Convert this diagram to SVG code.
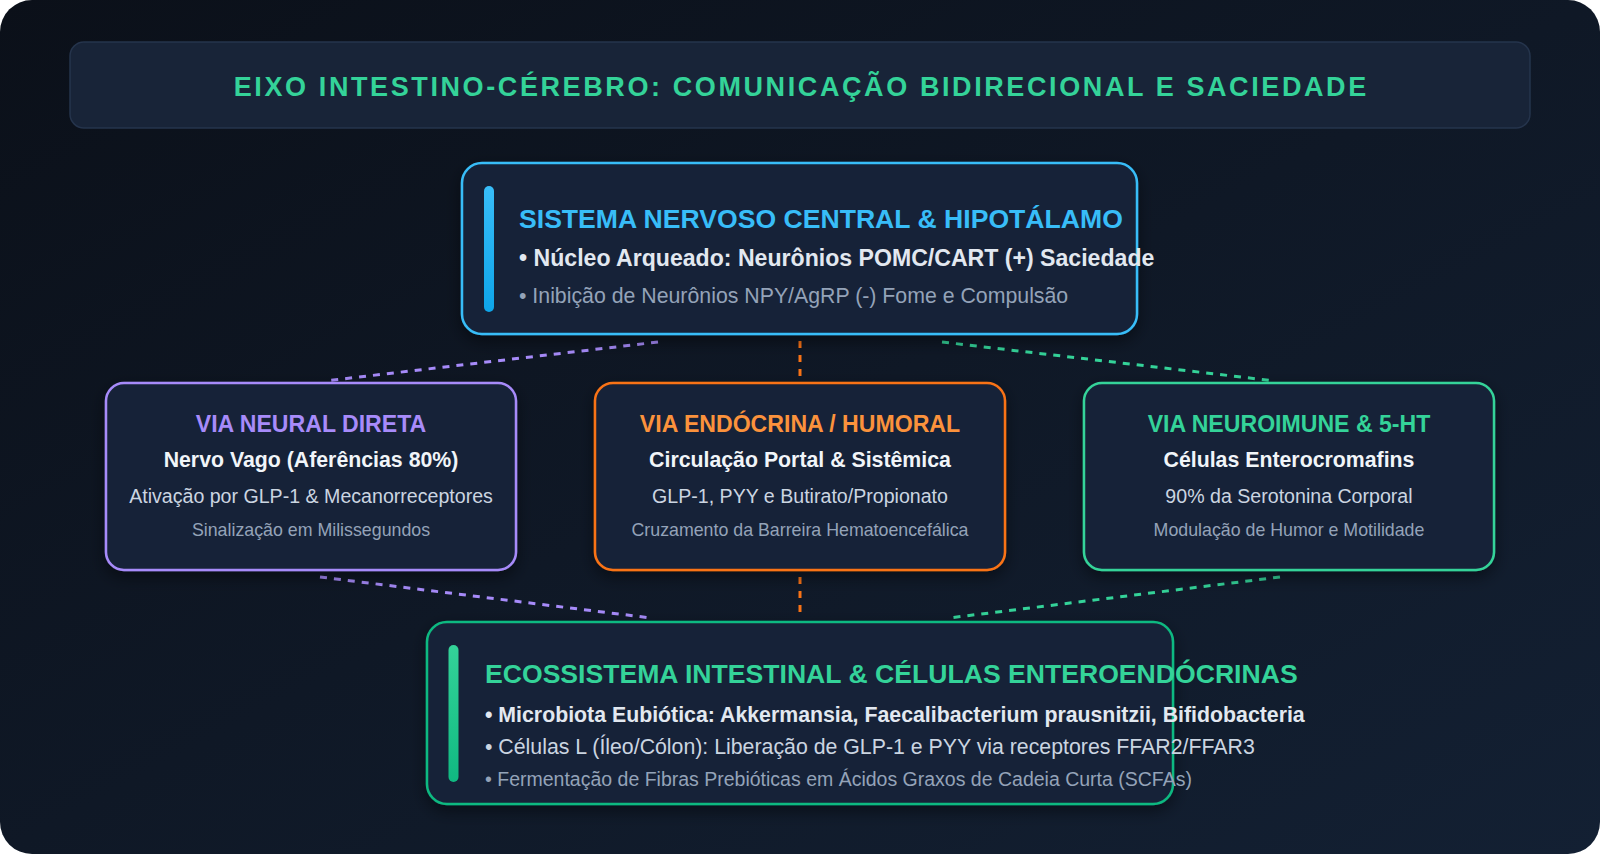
<svg xmlns="http://www.w3.org/2000/svg" width="1600" height="854" viewBox="0 0 1600 854">
  <defs>
    <linearGradient id="bg" x1="0" y1="0" x2="1" y2="1">
      <stop offset="0" stop-color="#0b1019"/>
      <stop offset="1" stop-color="#132033"/>
    </linearGradient>
    <linearGradient id="barBlue" x1="0" y1="0" x2="0" y2="1">
      <stop offset="0" stop-color="#38bdf8"/>
      <stop offset="1" stop-color="#0ea5e9"/>
    </linearGradient>
    <linearGradient id="barGreen" x1="0" y1="0" x2="0" y2="1">
      <stop offset="0" stop-color="#34d399"/>
      <stop offset="1" stop-color="#10b981"/>
    </linearGradient>
    <filter id="shadow" x="-20%" y="-20%" width="140%" height="150%">
      <feDropShadow dx="0" dy="6" stdDeviation="8" flood-color="#000000" flood-opacity="0.45"/>
    </filter>
    <style>
      text { font-family: "Liberation Sans", Arial, Helvetica, sans-serif; }
      .box { fill: #172238; stroke-width: 2.5; filter: url(#shadow); }
      .title { font-size: 27px; font-weight: bold; fill: #34d399; letter-spacing: 2.6px; }
      .h1 { font-size: 26.6px; font-weight: bold; }
      .h2 { font-size: 23.1px; font-weight: bold; text-anchor: middle; }
      .b2 { font-size: 21.3px; font-weight: bold; fill: #f1f5f9; text-anchor: middle; }
      .r2 { font-size: 19.6px; fill: #cbd5e1; text-anchor: middle; }
      .g2 { font-size: 17.8px; fill: #94a3b8; text-anchor: middle; }
      .conn { fill: none; stroke-width: 3; stroke-dasharray: 7 7; }
    </style>
  </defs>

  <rect x="0" y="0" width="1600" height="854" rx="32" fill="url(#bg)"/>

  <g id="title">
    <rect x="70" y="42" width="1460" height="86" rx="14" fill="#182438" stroke="#25344c" stroke-width="1.5"/>
    <text class="title" x="801.3" y="95.7" text-anchor="middle">EIXO INTESTINO-CÉREBRO: COMUNICAÇÃO BIDIRECIONAL E SACIEDADE</text>
  </g>

  <g id="connectors">
    <line class="conn" stroke="#a78bfa" x1="658" y1="342" x2="325" y2="381"/>
    <line class="conn" stroke="#f97316" x1="800" y1="341" x2="800" y2="377"/>
    <line class="conn" stroke="#34d399" x1="942" y1="342" x2="1275" y2="381"/>
    <line class="conn" stroke="#a78bfa" x1="320" y1="577" x2="651" y2="618"/>
    <line class="conn" stroke="#f97316" x1="800" y1="577" x2="800" y2="613"/>
    <line class="conn" stroke="#34d399" x1="1280" y1="577" x2="949" y2="618"/>
  </g>

  <g id="snc">
    <rect class="box" x="462" y="163" width="675" height="171" rx="20" stroke="#38bdf8"/>
    <rect x="484" y="186" width="10" height="126" rx="5" fill="url(#barBlue)"/>
    <text class="h1" x="519" y="228.3" fill="#38bdf8">SISTEMA NERVOSO CENTRAL &amp; HIPOTÁLAMO</text>
    <text x="519" y="266" font-size="23.1px" font-weight="bold" fill="#e2e8f0">• Núcleo Arqueado: Neurônios POMC/CART (+) Saciedade</text>
    <text x="519" y="303" font-size="21.3px" fill="#94a3b8">• Inibição de Neurônios NPY/AgRP (-) Fome e Compulsão</text>
  </g>

  <g id="via-neural">
    <rect class="box" x="106" y="383" width="410" height="187" rx="18" stroke="#a78bfa"/>
    <text class="h2" x="311" y="431.7" fill="#a78bfa">VIA NEURAL DIRETA</text>
    <text class="b2" x="311" y="467.3">Nervo Vago (Aferências 80%)</text>
    <text class="r2" x="311" y="503.3">Ativação por GLP-1 &amp; Mecanorreceptores</text>
    <text class="g2" x="311" y="535.5">Sinalização em Milissegundos</text>
  </g>

  <g id="via-endocrina">
    <rect class="box" x="595" y="383" width="410" height="187" rx="18" stroke="#f97316"/>
    <text class="h2" x="800" y="431.7" fill="#fb923c">VIA ENDÓCRINA / HUMORAL</text>
    <text class="b2" x="800" y="467.3">Circulação Portal &amp; Sistêmica</text>
    <text class="r2" x="800" y="503.3">GLP-1, PYY e Butirato/Propionato</text>
    <text class="g2" x="800" y="535.5">Cruzamento da Barreira Hematoencefálica</text>
  </g>

  <g id="via-neuroimune">
    <rect class="box" x="1084" y="383" width="410" height="187" rx="18" stroke="#34d399"/>
    <text class="h2" x="1289" y="431.7" fill="#34d399">VIA NEUROIMUNE &amp; 5-HT</text>
    <text class="b2" x="1289" y="467.3">Células Enterocromafins</text>
    <text class="r2" x="1289" y="503.3">90% da Serotonina Corporal</text>
    <text class="g2" x="1289" y="535.5">Modulação de Humor e Motilidade</text>
  </g>

  <g id="ecossistema">
    <rect class="box" x="427" y="622" width="746" height="182" rx="20" stroke="#10b981"/>
    <rect x="448.5" y="645" width="10" height="137" rx="5" fill="url(#barGreen)"/>
    <text class="h1" x="485" y="683.3" fill="#34d399">ECOSSISTEMA INTESTINAL &amp; CÉLULAS ENTEROENDÓCRINAS</text>
    <text x="485" y="722.3" font-size="21.3px" font-weight="bold" fill="#e2e8f0">• Microbiota Eubiótica: Akkermansia, Faecalibacterium prausnitzii, Bifidobacteria</text>
    <text x="485" y="754" font-size="21.3px" fill="#cbd5e1">• Células L (Íleo/Cólon): Liberação de GLP-1 e PYY via receptores FFAR2/FFAR3</text>
    <text x="485" y="785.7" font-size="19.5px" fill="#94a3b8">• Fermentação de Fibras Prebióticas em Ácidos Graxos de Cadeia Curta (SCFAs)</text>
  </g>
</svg>
